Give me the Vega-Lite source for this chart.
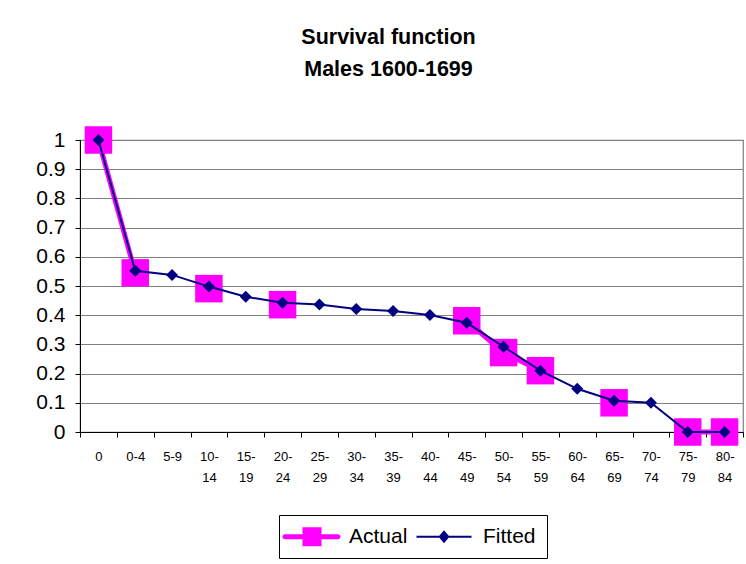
{
  "$schema": "https://vega.github.io/schema/vega-lite/v6.json",
  "autosize": "none",
  "width": 663,
  "height": 292,
  "padding": {"left": 80, "top": 140, "right": 3, "bottom": 132},
  "background": "white",
  "config": {
    "view": {"stroke": "#808080", "strokeWidth": 1.2},
    "axisY": {
      "tickCount": 10,
      "labelOverlap": false,
      "format": "~g",
      "labelFontSize": 21,
      "labelFont": "Liberation Sans",
      "labelColor": "black",
      "labelPadding": 10,
      "tickSize": 5,
      "tickColor": "black",
      "domainColor": "black",
      "gridColor": "#808080",
      "gridWidth": 1.2,
      "gridOpacity": 1,
      "title": null
    }
  },
  "title": {
    "text": ["Survival function", "Males 1600-1699"],
    "anchor": "middle",
    "frame": "group",
    "dx": -23,
    "offset": 33,
    "fontSize": 21.5,
    "fontWeight": "bold",
    "font": "Liberation Sans",
    "lineHeight": 32,
    "color": "black"
  },
  "data": {
    "values": [
      {"age": "0", "actual": 1, "fitted": 1},
      {"age": "0-4", "actual": 0.545, "fitted": 0.552},
      {"age": "5-9", "actual": null, "fitted": 0.538},
      {"age": "10-14", "actual": 0.491, "fitted": 0.498},
      {"age": "15-19", "actual": null, "fitted": 0.463},
      {"age": "20-24", "actual": 0.436, "fitted": 0.443},
      {"age": "25-29", "actual": null, "fitted": 0.437},
      {"age": "30-34", "actual": null, "fitted": 0.421},
      {"age": "35-39", "actual": null, "fitted": 0.414},
      {"age": "40-44", "actual": null, "fitted": 0.401},
      {"age": "45-49", "actual": 0.381, "fitted": 0.374},
      {"age": "50-54", "actual": 0.272, "fitted": 0.292},
      {"age": "55-59", "actual": 0.21, "fitted": 0.21},
      {"age": "60-64", "actual": null, "fitted": 0.148},
      {"age": "65-69", "actual": 0.1, "fitted": 0.107},
      {"age": "70-74", "actual": null, "fitted": 0.1},
      {"age": "75-79", "actual": 0, "fitted": 0},
      {"age": "80-84", "actual": 0, "fitted": 0}
    ]
  },
  "encoding": {
    "x": {
      "field": "age",
      "type": "ordinal",
      "sort": null,
      "scale": {"type": "band", "paddingInner": 0, "paddingOuter": 0},
      "axis": {
        "title": null,
        "labelAngle": 0,
        "tickBand": "extent",
        "labelExpr": "length(datum.label) > 3 ? [slice(datum.label, 0, 3), slice(datum.label, 3)] : datum.label",
        "labelLineHeight": 21,
        "labelFontSize": 13,
        "labelPadding": 13,
        "labelColor": "black",
        "labelFont": "Liberation Sans",
        "tickSize": 5,
        "tickColor": "black",
        "domainColor": "black",
        "grid": false
      }
    }
  },
  "layer": [
    {
      "mark": {"type": "line", "color": "#FF00FF", "strokeWidth": 5, "invalid": "break-paths-filter-domains"},
      "encoding": {
        "y": {
          "field": "actual",
          "type": "quantitative",
          "scale": {"domain": [0, 1], "nice": false, "zero": true}
        }
      }
    },
    {
      "mark": {"type": "point", "shape": "square", "filled": true, "size": 756, "color": "#FF00FF", "opacity": 1},
      "encoding": {"y": {"field": "actual", "type": "quantitative"}}
    },
    {
      "mark": {"type": "line", "color": "#000080", "strokeWidth": 2, "invalid": "break-paths-filter-domains"},
      "encoding": {"y": {"field": "fitted", "type": "quantitative"}}
    },
    {
      "mark": {"type": "point", "shape": "diamond", "filled": true, "size": 144, "color": "#000080", "opacity": 1},
      "encoding": {"y": {"field": "fitted", "type": "quantitative"}}
    },
    {
      "transform": [{"fold": ["actual", "fitted"], "as": ["key", "v"]}, {"calculate": "datum.key === 'actual' ? 'Actual' : 'Fitted'", "as": "series"}],
      "mark": {"type": "point", "filled": true, "opacity": 0},
      "encoding": {
        "y": {"field": "v", "type": "quantitative"},
        "color": {
          "field": "series",
          "type": "nominal",
          "scale": {"domain": ["Actual", "Fitted"], "range": ["#FF00FF", "#000080"]},
          "legend": {
            "orient": "none",
            "legendX": 199,
            "legendY": 375,
            "direction": "horizontal",
            "title": null,
            "strokeColor": "black",
            "fillColor": "white",
            "padding": 11,
            "symbolSize": 4,
            "labelOffset": 38,
            "labelFontSize": 21,
            "labelFont": "Liberation Sans",
            "labelColor": "black",
            "columnPadding": 8,
            "encode": {"symbols": {"update": {"opacity": {"value": 1}, "fillOpacity": {"value": 1}, "strokeWidth": {"value": 0}}}}
          }
        },
        "shape": {
          "field": "series",
          "type": "nominal",
          "scale": {
            "domain": ["Actual", "Fitted"],
            "range": [
              "M-15.5,-2.5H37.5A2.5,2.5 0 0 1 37.5,2.5H-15.5A2.5,2.5 0 0 1 -15.5,-2.5Z M2,-9.5H21V9.5H2Z",
              "M-18,-1H37V1H-18Z M9.5,-6.5L15,0L9.5,6.5L4,0Z"
            ]
          }
        }
      }
    }
  ]
}
